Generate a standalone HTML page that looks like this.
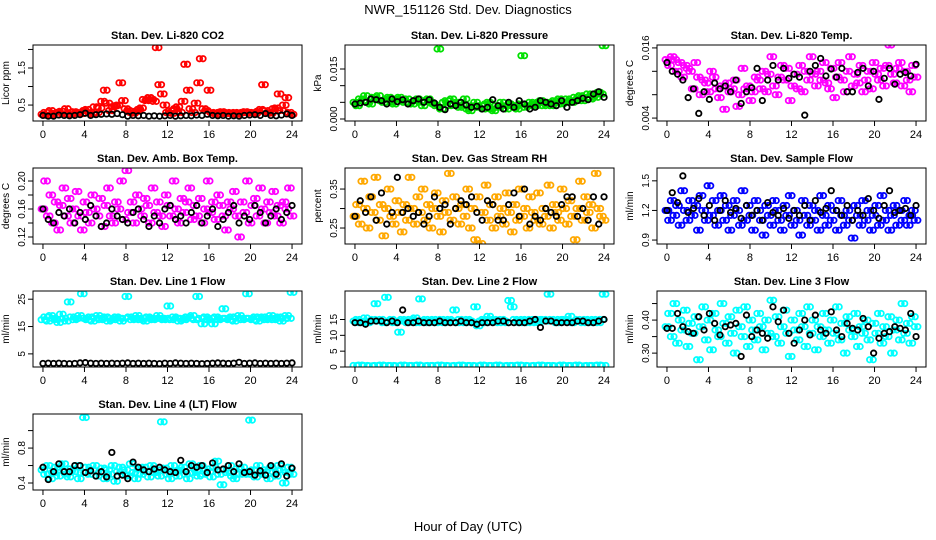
<!DOCTYPE html>
<html><head><meta charset="utf-8">
<style>
html,body{margin:0;padding:0;background:#fff;}
svg{display:block;font-family:"Liberation Sans",sans-serif;}
</style></head>
<body>
<svg id="chart" width="936" height="540" viewBox="0 0 936 540">
<text x="468" y="14" text-anchor="middle" font-size="13">NWR_151126  Std. Dev. Diagnostics</text>
<text x="468" y="531" text-anchor="middle" font-size="13">Hour of Day (UTC)</text>
</svg>
<script>
const xTicks = [0,4,8,12,16,20,24];
const titles = ["Stan. Dev. Li-820 CO2","Stan. Dev. Li-820 Pressure","Stan. Dev. Li-820 Temp.","Stan. Dev. Amb. Box Temp.","Stan. Dev. Gas Stream RH","Stan. Dev. Sample Flow","Stan. Dev. Line 1 Flow","Stan. Dev. Line 2 Flow","Stan. Dev. Line 3 Flow","Stan. Dev. Line 4 (LT) Flow"];
const yTitles = ["Licor ppm","kPa","degrees C","degrees C","percent","ml/min","ml/min","ml/min","ml/min","ml/min"];
const yMins = [0.07,-0.0006,0.0035,0.11,0.209,0.86,0.2,0,0.258,0.32];
const yMaxs = [2.12,0.0222,0.0165,0.2186,0.404,1.63,28,24,0.488,1.19];
const yTickVals = [[0.5,1,1.5,2],[0,0.005,0.01,0.015],[0.004,0.008,0.012,0.016],[0.12,0.14,0.16,0.18,0.2],[0.25,0.3,0.35],[0.9,1.2,1.5],[5,15,25],[0,5,10,15],[0.3,0.35,0.4,0.45],[0.4,0.6,0.8,1.0]];
const yTickLabels = [["0.5","","1.5",""],["0.000","","","0.015"],["0.004","","","0.016"],["0.12","","0.16","","0.20"],["0.25","","0.35"],["0.9","1.2","1.5"],["5","15","25"],["0","5","10","15"],["0.30","","0.40",""],["0.4","","0.8",""]];
const colors = ["#ff0000","#00e000","#ff00ff","#ff00ff","#ffa800","#0000ff","#00ffff","#00ffff","#00ffff","#00ffff"];

const co2 = [0.25,0.3,0.22,0.35,0.28,0.24,0.3,0.33,0.26,0.4,0.3,0.25,0.32,0.28,0.3,0.27,0.35,0.38,0.3,0.26,0.45,0.3,0.42,0.6,0.9,0.55,0.35,0.45,0.48,0.5,1.1,0.62,0.4,0.35,0.3,0.28,0.33,0.38,0.42,0.65,0.62,0.7,0.65,0.6,2.05,1.05,0.8,0.5,0.3,0.35,0.28,0.4,0.45,0.3,0.6,1.6,0.9,0.4,0.3,0.55,1.1,1.75,0.4,0.35,0.9,0.3,0.28,0.25,0.3,0.32,0.27,0.3,0.28,0.26,0.3,0.25,0.28,0.3,0.32,0.3,0.28,0.3,0.27,0.33,0.38,1.05,0.35,0.3,0.28,0.4,0.42,0.8,0.35,0.5,0.7,0.3,0.25];
const co2B = [0.22,0.2,0.2,0.23,0.22,0.21,0.22,0.24,0.28,0.22,0.24,0.25,0.26,0.25,0.27,0.24,0.2,0.22,0.21,0.22,0.2,0.21,0.2,0.21,0.22,0.2,0.21,0.22,0.21,0.23,0.22,0.25,0.22,0.21,0.22,0.2,0.21,0.2,0.22,0.23,0.24,0.22,0.27,0.22,0.21,0.23,0.26,0.22];
const pres = [0.005,0.004,0.006,0.0055,0.007,0.005,0.0045,0.0065,0.006,0.007,0.0055,0.005,0.006,0.0065,0.005,0.0045,0.006,0.0065,0.0055,0.005,0.006,0.005,0.0045,0.0055,0.006,0.005,0.004,0.0055,0.006,0.005,0.0045,0.004,0.021,0.003,0.005,0.0055,0.004,0.006,0.0045,0.005,0.0035,0.004,0.006,0.003,0.0025,0.004,0.005,0.0035,0.004,0.003,0.0045,0.005,0.003,0.0025,0.004,0.0035,0.005,0.004,0.003,0.0045,0.004,0.0035,0.003,0.0045,0.019,0.0035,0.004,0.005,0.0045,0.004,0.005,0.0055,0.004,0.0045,0.005,0.004,0.0055,0.005,0.006,0.0045,0.005,0.006,0.0055,0.005,0.0065,0.006,0.007,0.0055,0.0065,0.0075,0.006,0.007,0.0065,0.008,0.0075,0.022];
const presB = [0.0045,0.0048,0.005,0.006,0.0058,0.0055,0.0045,0.006,0.0052,0.0058,0.0045,0.0055,0.006,0.005,0.0058,0.0048,0.0035,0.0028,0.0045,0.004,0.005,0.0042,0.0035,0.0038,0.003,0.0035,0.0058,0.004,0.003,0.005,0.0035,0.0055,0.0045,0.003,0.0035,0.0055,0.005,0.0045,0.004,0.0055,0.0035,0.005,0.0055,0.0062,0.0058,0.0075,0.0082,0.0065];
const ltmp = [0.014,0.013,0.0145,0.014,0.012,0.0135,0.011,0.013,0.0125,0.012,0.009,0.0135,0.011,0.008,0.0105,0.01,0.0085,0.012,0.011,0.009,0.0075,0.0095,0.0055,0.01,0.0085,0.009,0.0105,0.006,0.008,0.0125,0.009,0.0095,0.007,0.0085,0.011,0.0105,0.009,0.012,0.0085,0.0115,0.0145,0.0095,0.008,0.011,0.013,0.0105,0.0125,0.007,0.0095,0.0115,0.009,0.013,0.0085,0.012,0.0105,0.0145,0.0115,0.0095,0.012,0.0105,0.0135,0.01,0.009,0.0125,0.0075,0.011,0.0135,0.0105,0.0085,0.012,0.0145,0.0095,0.0115,0.01,0.013,0.0085,0.0105,0.012,0.009,0.0135,0.0115,0.0105,0.0125,0.0095,0.013,0.0165,0.0115,0.01,0.0125,0.0135,0.0095,0.012,0.0105,0.0085,0.013,0.011];
const ltmpB = [0.0135,0.012,0.0115,0.0105,0.0075,0.009,0.0048,0.0085,0.0072,0.01,0.009,0.0095,0.0085,0.0105,0.0065,0.0085,0.0092,0.0125,0.007,0.0105,0.013,0.0105,0.0125,0.0108,0.0115,0.011,0.0045,0.012,0.013,0.0142,0.0112,0.0124,0.011,0.0125,0.0085,0.0085,0.0118,0.0125,0.0095,0.012,0.0072,0.0108,0.0125,0.0098,0.0115,0.0118,0.0112,0.0132];
const amb = [0.16,0.2,0.15,0.18,0.14,0.17,0.13,0.165,0.19,0.15,0.175,0.14,0.16,0.185,0.15,0.13,0.17,0.155,0.14,0.18,0.16,0.15,0.175,0.135,0.165,0.19,0.15,0.14,0.17,0.16,0.2,0.145,0.215,0.155,0.17,0.14,0.18,0.16,0.15,0.175,0.165,0.14,0.19,0.155,0.17,0.15,0.135,0.18,0.165,0.15,0.2,0.16,0.14,0.175,0.155,0.17,0.19,0.145,0.165,0.15,0.175,0.14,0.16,0.2,0.155,0.17,0.145,0.18,0.165,0.15,0.13,0.17,0.16,0.185,0.15,0.12,0.17,0.155,0.2,0.14,0.165,0.175,0.15,0.19,0.16,0.14,0.17,0.155,0.185,0.15,0.165,0.14,0.17,0.16,0.19,0.15];
const ambB = [0.16,0.145,0.14,0.155,0.15,0.16,0.14,0.155,0.145,0.165,0.15,0.135,0.14,0.16,0.15,0.145,0.14,0.155,0.16,0.145,0.135,0.15,0.14,0.16,0.165,0.145,0.15,0.14,0.155,0.165,0.14,0.15,0.16,0.135,0.145,0.155,0.165,0.14,0.15,0.145,0.165,0.155,0.14,0.15,0.16,0.145,0.155,0.165];
const rh = [0.28,0.31,0.26,0.37,0.3,0.25,0.33,0.29,0.38,0.27,0.31,0.23,0.3,0.35,0.28,0.26,0.32,0.29,0.24,0.31,0.27,0.38,0.3,0.26,0.33,0.29,0.35,0.27,0.31,0.25,0.3,0.34,0.28,0.24,0.32,0.29,0.39,0.27,0.33,0.3,0.26,0.31,0.28,0.35,0.25,0.3,0.22,0.33,0.21,0.29,0.36,0.27,0.31,0.25,0.33,0.28,0.3,0.26,0.34,0.29,0.24,0.31,0.27,0.35,0.28,0.3,0.25,0.33,0.29,0.27,0.34,0.26,0.3,0.28,0.36,0.25,0.31,0.29,0.27,0.35,0.3,0.26,0.32,0.28,0.22,0.3,0.37,0.27,0.33,0.29,0.31,0.25,0.39,0.3,0.28,0.27];
const rhB = [0.28,0.32,0.29,0.33,0.27,0.34,0.26,0.29,0.38,0.29,0.3,0.28,0.29,0.26,0.28,0.33,0.3,0.31,0.26,0.3,0.32,0.31,0.33,0.29,0.27,0.32,0.31,0.27,0.27,0.31,0.34,0.28,0.35,0.26,0.28,0.27,0.3,0.29,0.28,0.31,0.33,0.33,0.28,0.3,0.27,0.33,0.26,0.33];
const flow = [1.2,1.1,1.3,1.15,1.25,1.05,1.4,1.2,1.1,1.3,1.15,1.25,1.0,1.35,1.2,1.1,1.45,1.15,1.3,1.05,1.2,1.35,1.1,1.25,1.0,1.15,1.3,1.2,1.05,1.4,1.1,1.25,1.15,1.0,1.3,1.2,1.1,0.95,1.25,1.15,1.05,1.3,1.2,1.1,1.0,1.25,1.15,1.35,1.05,1.2,1.1,0.95,1.3,1.15,1.05,1.25,1.1,1.2,1.0,1.35,1.15,1.05,1.25,1.1,1.2,1.0,1.3,1.15,1.05,1.2,1.1,0.92,1.25,1.15,1.05,1.3,1.1,1.2,1.0,1.15,1.25,1.05,1.35,1.1,1.2,1.0,1.15,1.25,1.05,1.2,1.1,1.3,1.05,1.15,1.2,1.1];
const flowB = [1.2,1.38,1.28,1.55,1.18,1.22,1.32,1.15,1.25,1.1,1.2,1.3,1.18,1.22,1.12,1.25,1.15,1.2,1.1,1.28,1.18,1.15,1.22,1.12,1.2,1.15,1.25,1.1,1.3,1.18,1.22,1.4,1.2,1.15,1.25,1.1,1.2,1.15,1.32,1.2,1.12,1.25,1.4,1.18,1.2,1.22,1.15,1.25];
const line1 = [17.5,18.5,17,19,18,17.5,16.5,19.5,18,17,24,18.5,17.5,18,19,27,18,17.5,18.5,17,18,19,17.5,18,18.5,17,18,17.5,18.5,18,17,18,26,18.5,17.5,18,19,17.5,18,17,18.5,18,17.5,18,19,18,17.5,18,22.5,17.5,18.5,18,17,18,17.5,18.5,18,19,17.5,26,18,16,18.5,17.5,18,16,18.5,17.5,18,21.5,18,17.5,18.5,17,18,19,17.5,18,27,18,17.5,18.5,17,18,18.5,17.5,18,19,17.5,18,18.5,17,18,19,18,27.5];
const line1B = [1.5,1.6,1.5,1.6,1.5,1.4,1.5,1.7,1.8,1.6,1.5,1.6,1.5,1.6,1.5,1.6,1.7,1.5,1.6,1.5,1.6,1.5,1.4,1.6,1.5,1.7,1.6,1.5,1.6,1.5,1.4,1.5,1.6,1.7,1.6,1.5,1.6,1.9,1.5,1.6,1.7,1.5,1.6,1.5,1.6,1.5,1.6,1.7];
const line2 = [14.5,15,14,14.5,15.5,14,14.5,15,20,14.5,15,14,22,14.5,15,14,14.5,11,15,14.5,14,15,14.5,15.5,14,21.5,14.5,15,14,14.5,15,14,14.5,15,14,14.5,15,14.5,18,14,15,14.5,14,15,14.5,14,19,13,14.5,15,14,16,14.5,15,14.5,14,15,14.5,14,21,19,15,14.5,14,15,14.5,14,15,14.5,14,15,14.5,15,14.5,23,15,14.5,14,15,14.5,15,14.5,16,14,14.5,15,14.5,14,15,14.5,14,15,14.5,14,15,23];
const line2Low = [0.5,0.6,0.5,0.4,0.5,0.6,0.5,0.5,0.4,0.6,0.5,0.5,0.6,0.4,0.5,0.5,0.6,0.5,0.4,0.5,0.6,0.5,0.5,0.4,0.6,0.5,0.5,0.6,0.4,0.5,0.5,0.6,0.5,0.4,0.5,0.6,0.5,0.5,0.4,0.6,0.5,0.5,0.6,0.4,0.5,0.5,0.6,0.5];
const line2B = [14,14,13.5,14.5,14.5,14.5,14,14.5,14,18,14,14,14.5,14,14,14,14.5,14,14,14,14.5,14,14,13.5,14,14,14,14.5,14.5,14,14,14,14,14.5,15,12.5,14.5,14.5,14,14,14,14,14.5,14.5,14,14,14.5,15];
const line3 = [0.38,0.42,0.35,0.45,0.33,0.4,0.37,0.43,0.32,0.39,0.36,0.41,0.28,0.38,0.44,0.34,0.4,0.31,0.42,0.37,0.35,0.45,0.39,0.33,0.41,0.36,0.3,0.43,0.38,0.35,0.44,0.32,0.4,0.37,0.34,0.42,0.38,0.31,0.4,0.36,0.46,0.35,0.41,0.33,0.38,0.43,0.36,0.29,0.4,0.37,0.34,0.42,0.38,0.32,0.44,0.36,0.4,0.31,0.38,0.35,0.42,0.37,0.33,0.4,0.36,0.44,0.34,0.39,0.3,0.41,0.37,0.35,0.42,0.32,0.38,0.36,0.4,0.34,0.28,0.39,0.36,0.42,0.33,0.38,0.35,0.41,0.3,0.37,0.4,0.34,0.45,0.36,0.39,0.33,0.41,0.38];
const line3B = [0.375,0.375,0.42,0.38,0.365,0.36,0.41,0.37,0.42,0.39,0.355,0.38,0.385,0.39,0.29,0.415,0.35,0.37,0.36,0.345,0.44,0.395,0.43,0.36,0.33,0.37,0.4,0.355,0.415,0.37,0.36,0.425,0.37,0.35,0.39,0.375,0.37,0.405,0.38,0.3,0.345,0.36,0.365,0.38,0.375,0.37,0.42,0.35];
const line4 = [0.55,0.5,0.6,0.45,0.52,0.58,0.48,0.55,0.62,0.5,0.47,0.56,0.53,0.6,0.45,0.52,1.15,0.58,0.5,0.55,0.6,0.48,0.52,0.57,0.45,0.55,0.5,0.6,0.42,0.53,0.58,0.5,0.55,0.48,0.62,0.52,0.45,0.56,0.5,0.58,0.53,0.47,0.6,0.52,0.55,0.48,1.1,0.57,0.5,0.45,0.6,0.53,0.48,0.55,0.58,0.5,0.45,0.62,0.52,0.55,0.48,0.6,0.5,0.56,0.53,0.47,0.58,0.65,0.5,0.38,0.55,0.52,0.6,0.48,0.45,0.56,0.5,0.58,0.53,0.5,1.12,0.55,0.47,0.6,0.52,0.5,0.55,0.45,0.58,0.53,0.48,0.6,0.55,0.4,0.52,0.58,0.5];
const line4B = [0.58,0.44,0.53,0.62,0.53,0.53,0.6,0.6,0.52,0.54,0.48,0.53,0.47,0.75,0.48,0.49,0.45,0.64,0.58,0.55,0.53,0.56,0.58,0.55,0.53,0.52,0.66,0.53,0.6,0.58,0.6,0.52,0.63,0.55,0.56,0.6,0.53,0.62,0.52,0.53,0.49,0.54,0.49,0.6,0.5,0.62,0.48,0.57];

const colorSeries = [co2,pres,ltmp,amb,rh,flow,line1,line2,line3,line4];
const blackSeries = [co2B,presB,ltmpB,ambB,rhB,flowB,line1B,line2B,line3B,line4B];
const extraSeries = [null,null,null,null,null,null,null,line2Low,null,null];

const NS = "http://www.w3.org/2000/svg";
const svg = document.getElementById("chart");
function mk(tag, attrs, parent){
  const e = document.createElementNS(NS, tag);
  for (const k in attrs) e.setAttribute(k, attrs[k]);
  (parent||svg).appendChild(e);
  return e;
}
const boxW = 269, boxH = 76;
const colX = [33,345,657], rowY = [45,168,291,414];
const X_MIN = -0.96, X_MAX = 24.96;
const spread = [-1.8, 1.8];

for (let p = 0; p < 10; p++) {
  const L = colX[p % 3], T = rowY[Math.floor(p / 3)];
  const g = mk("g", {});
  
  
  const xs = v => L + (v - X_MIN) / (X_MAX - X_MIN) * boxW;
  const ys = v => T + boxH - (v - yMins[p]) / (yMaxs[p] - yMins[p]) * boxH;

  const t = mk("text", {x: L + boxW / 2, y: T - 6, "text-anchor": "middle", "font-size": "11", "font-weight": "bold"}, g);
  t.textContent = titles[p];
  
  

  const yt = mk("text", {x: 0, y: 0, "text-anchor": "middle", "font-size": "10", transform: "translate(" + (L - 24) + "," + (T + boxH / 2) + ") rotate(-90)"}, g);
  yt.textContent = yTitles[p];
  
  

  const xa = mk("g", {}, g);
  
  
  mk("line", {x1: xs(xTicks[0]), x2: xs(xTicks[xTicks.length - 1]), y1: T + boxH, y2: T + boxH, stroke: "#000"}, xa);
  xTicks.forEach(v => {
    mk("line", {x1: xs(v), x2: xs(v), y1: T + boxH, y2: T + boxH + 5, stroke: "#000"}, xa);
    const lt = mk("text", {x: xs(v), y: T + boxH + 17, "text-anchor": "middle", "font-size": "11"}, xa);
    lt.textContent = v;
  });

  const ya = mk("g", {}, g);
  
  
  yTickVals[p].forEach((v, i) => {
    const y = ys(v);
    mk("line", {x1: L - 5, x2: L, y1: y, y2: y, stroke: "#000"}, ya);
    if (yTickLabels[p][i]) {
      const lt = mk("text", {x: 0, y: 0, "text-anchor": "middle", "font-size": "10", transform: "translate(" + (L - 8) + "," + y + ") rotate(-90)"}, ya);
      lt.textContent = yTickLabels[p][i];
    }
  });

  const clipId = "clip" + p;
  const cp = mk("clipPath", {id: clipId}, g);
  mk("rect", {x: L, y: T, width: boxW, height: boxH}, cp);
  const pts = mk("g", {"clip-path": "url(#" + clipId + ")"}, g);
  
  

  const draw = (arr, col, sw, name, offs) => {
    const n = arr.length;
    arr.forEach((v, i) => {
      const hr = i * 24 / (n - 1);
      offs.forEach(dx => {
        const c = mk("circle", {cx: xs(hr) + dx, cy: ys(v), r: 2.7, fill: "none", stroke: col, "stroke-width": sw}, pts);
        
        
      });
    });
  };
  draw(colorSeries[p], colors[p], 1.8, 'point', spread);
  if (extraSeries[p]) draw(extraSeries[p], colors[p], 1.8, 'point-low', spread);
  draw(blackSeries[p], "#000", 1.8, 'point-mean', [0]);

  const box = mk("rect", {x: L, y: T, width: boxW, height: boxH, fill: "none", stroke: "#000"}, g);
  
  
}
</script>
</body></html>
